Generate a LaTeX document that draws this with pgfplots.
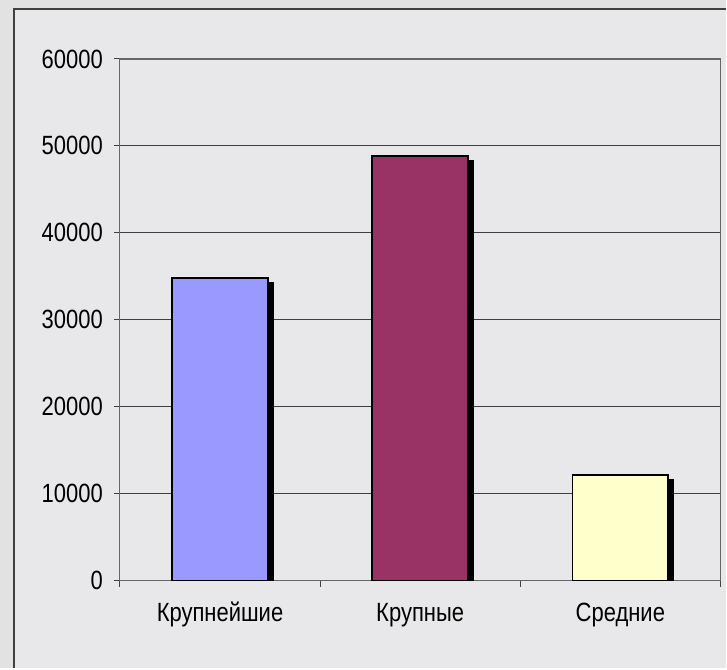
\documentclass[border=0pt]{standalone}
\usepackage{pgfplots}
\pgfplotsset{compat=1.18}
\usepackage{fontspec}
\setmainfont{Liberation Sans}
\usetikzlibrary{shadows}
\definecolor{outergray}{HTML}{E2E2E2}
\definecolor{marble}{HTML}{E8E8EA}
\definecolor{framegray}{HTML}{404040}
\definecolor{barA}{HTML}{9999FF}
\definecolor{barB}{HTML}{993366}
\definecolor{barC}{HTML}{FFFFCC}
\newcommand{\tall}[1]{\scalebox{1}[1.2]{#1}}
\begin{document}
\begin{tikzpicture}
% background and panel frame
\fill[outergray] (-60pt,-44pt) rectangle (303.5pt,290.5pt);
\fill[marble] (-53pt,-44pt) rectangle (303.5pt,286pt);
\draw[framegray, line width=0.6pt] (-53pt,-44pt) -- (-53pt,286pt) -- (303.5pt,286pt);
\useasboundingbox (-60pt,-44pt) rectangle (303.5pt,290.5pt);
\begin{axis}[
    at={(0pt,0pt)}, anchor=south west,
    width=300.5pt, height=261pt, scale only axis,
    ybar, /pgf/bar shift={0pt}, bar width=48pt,
    xmin=-0.5, xmax=2.5,
    ymin=0, ymax=60000,
    ytick={0,10000,...,60000},
    xtick={0,1,2},
    xticklabels={\tall{Крупнейшие},\tall{Крупные},\tall{Средние}},
    minor xtick={-0.5,0.5,1.5,2.5},
    every major x tick/.append style={draw=none},
    tick align=outside, tick pos=left,
    major tick length=3pt, minor tick length=3pt,
    tick style={draw=framegray, line width=0.5pt},
    ymajorgrids, grid style={draw=black!75, line width=0.5pt},
    axis line style={draw=gray!80!black, line width=0.6pt},
    scaled y ticks=false,
    yticklabel={\tall{\pgfmathprintnumber[assume math mode=true,use comma=false,1000 sep={}]{\tick}}},
    ticklabel style={font=\fontsize{11}{13}\selectfont, text=black},
    yticklabel style={xshift=-2pt},
    xticklabel style={anchor=base, yshift=-17.5pt},
]
\addplot[fill=barA, draw=black, line width=0.8pt,
    drop shadow={shadow xshift=2.5pt, shadow yshift=-2.5pt, opacity=1, fill=black}]
    coordinates {(0,34800)};
\addplot[fill=barB, draw=black, line width=0.8pt,
    drop shadow={shadow xshift=2.5pt, shadow yshift=-2.5pt, opacity=1, fill=black}]
    coordinates {(1,48850)};
\addplot[fill=barC, draw=black, line width=0.8pt,
    drop shadow={shadow xshift=2.5pt, shadow yshift=-2.5pt, opacity=1, fill=black}]
    coordinates {(2,12150)};
\end{axis}
\end{tikzpicture}
\end{document}
